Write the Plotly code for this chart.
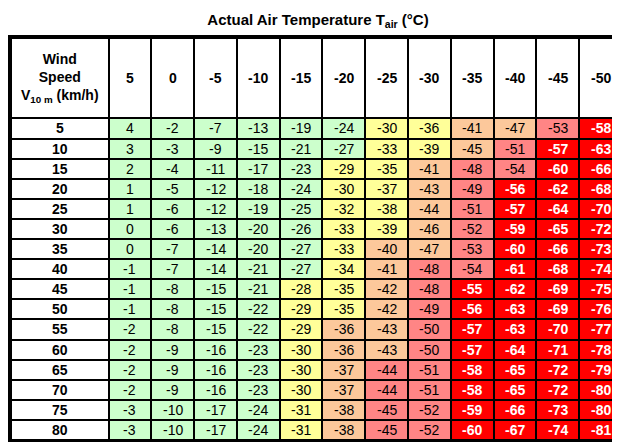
import plotly.graph_objects as go

# Wind chill table
temps = [5, 0, -5, -10, -15, -20, -25, -30, -35, -40, -45, -50]
speeds = [5, 10, 15, 20, 25, 30, 35, 40, 45, 50, 55, 60, 65, 70, 75, 80]
chill = [
    [4, -2, -7, -13, -19, -24, -30, -36, -41, -47, -53, -58],
    [3, -3, -9, -15, -21, -27, -33, -39, -45, -51, -57, -63],
    [2, -4, -11, -17, -23, -29, -35, -41, -48, -54, -60, -66],
    [1, -5, -12, -18, -24, -30, -37, -43, -49, -56, -62, -68],
    [1, -6, -12, -19, -25, -32, -38, -44, -51, -57, -64, -70],
    [0, -6, -13, -20, -26, -33, -39, -46, -52, -59, -65, -72],
    [0, -7, -14, -20, -27, -33, -40, -47, -53, -60, -66, -73],
    [-1, -7, -14, -21, -27, -34, -41, -48, -54, -61, -68, -74],
    [-1, -8, -15, -21, -28, -35, -42, -48, -55, -62, -69, -75],
    [-1, -8, -15, -22, -29, -35, -42, -49, -56, -63, -69, -76],
    [-2, -8, -15, -22, -29, -36, -43, -50, -57, -63, -70, -77],
    [-2, -9, -16, -23, -30, -36, -43, -50, -57, -64, -71, -78],
    [-2, -9, -16, -23, -30, -37, -44, -51, -58, -65, -72, -79],
    [-2, -9, -16, -23, -30, -37, -44, -51, -58, -65, -72, -80],
    [-3, -10, -17, -24, -31, -38, -45, -52, -59, -66, -73, -80],
    [-3, -10, -17, -24, -31, -38, -45, -52, -60, -67, -74, -81],
]
# risk band per cell
bands = [
    "GGGGGGYYOOPR",
    "GGGGGGYYOPRR",
    "GGGGGYYOPPRR",
    "GGGGGYYOPRRR",
    "GGGGGYYOPRRR",
    "GGGGGYYOPRRR",
    "GGGGGYOOPRRR",
    "GGGGGYOPPRRR",
    "GGGGYYOPRRRR",
    "GGGGYYOPRRRR",
    "GGGGYOOPRRRR",
    "GGGGYOOPRRRR",
    "GGGGYOPPRRRR",
    "GGGGYOPPRRRR",
    "GGGGYOPPRRRR",
    "GGGGYOPPRRRR",
]
band_idx = {"W": 0, "G": 1, "Y": 2, "O": 3, "P": 4, "R": 5}
band_colors = ["#ffffff", "#ccffcc", "#ffff99", "#fcc89b", "#ff8585", "#ff0000"]

# column / row edges in table units
first_w, col_w = 98, 43
head_h, row_h = 80, 20
x_edges = [0] + [first_w + k * col_w for k in range(len(temps) + 1)]
y_edges = [0] + [head_h + k * row_h for k in range(len(speeds) + 1)]

z = [[0] * (len(temps) + 1)]
for i in range(len(speeds)):
    z.append([0] + [band_idx[b] for b in bands[i]])

scale = []
n = len(band_colors)
for k, c in enumerate(band_colors):
    scale.append([k / n, c])
    scale.append([(k + 1) / n, c])

fig = go.Figure(go.Heatmap(
    x=x_edges, y=y_edges, z=z, zmin=-0.5, zmax=5.5,
    colorscale=scale, showscale=False, xgap=2, ygap=2, hoverinfo="skip",
))

font = dict(family="Liberation Sans", size=14, color="black")
xc = [(x_edges[k] + x_edges[k + 1]) / 2 for k in range(len(x_edges) - 1)]
yc = [(y_edges[k] + y_edges[k + 1]) / 2 for k in range(len(y_edges) - 1)]

ann = [dict(x=xc[0], y=yc[0], text="<b>Wind<br>Speed<br>V<sub>10 m</sub> (km/h)</b>",
            showarrow=False, font=font)]
for j, t in enumerate(temps):
    ann.append(dict(x=xc[j + 1], y=yc[0], text="<b>%d</b>" % t, showarrow=False, font=font))
for i, s in enumerate(speeds):
    ann.append(dict(x=xc[0], y=yc[i + 1], text="<b>%d</b>" % s, showarrow=False, font=font))
    for j in range(len(temps)):
        red = bands[i][j] == "R"
        v = chill[i][j]
        ann.append(dict(x=xc[j + 1], y=yc[i + 1],
                        text="<b>%d</b>" % v if red else str(v), showarrow=False,
                        font=dict(family="Liberation Sans", size=14,
                                  color="white" if red else "black")))

fig.update_layout(
    width=620, height=442,
    margin=dict(l=3, r=3, t=30, b=10),
    title=dict(text="<b>Actual Air Temperature T<sub>air</sub> (°C)</b>", x=0.5, y=0.985,
               xanchor="center", yanchor="top",
               font=dict(family="Liberation Sans", size=15, color="black")),
    paper_bgcolor="white", plot_bgcolor="black",
    annotations=ann,
    xaxis=dict(range=[0, x_edges[-1]], visible=True, showticklabels=False, showgrid=False,
               zeroline=False, showline=True, mirror=True, linecolor="black", linewidth=3,
               ticks=""),
    yaxis=dict(range=[y_edges[-1], 0], showticklabels=False, showgrid=False,
               zeroline=False, showline=True, mirror=True, linecolor="black", linewidth=3,
               ticks=""),
)
fig.write_html("out.html")
